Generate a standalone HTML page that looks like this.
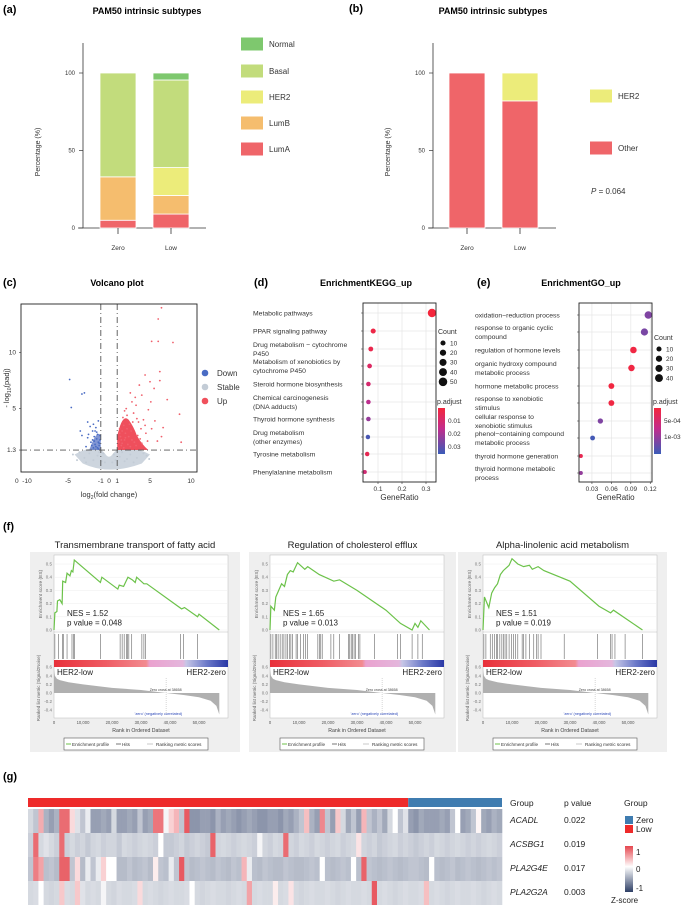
<!DOCTYPE html>
<html><head><meta charset="utf-8"><style>
html,body{margin:0;padding:0;background:#fff}
svg{display:block;font-family:"Liberation Sans",Arial,sans-serif}
</style></head><body>
<svg id="fig" width="688" height="908" viewBox="0 0 688 908" xmlns="http://www.w3.org/2000/svg">
<g font-weight="bold" font-size="11">
<text x="3" y="13">(a)</text>
<text x="349" y="12">(b)</text>
<text x="3" y="286">(c)</text>
<text x="254" y="286">(d)</text>
<text x="477" y="286">(e)</text>
<text x="3" y="530">(f)</text>
<text x="3" y="780">(g)</text>
</g>
<g font-weight="bold" font-size="9" text-anchor="middle">
<text x="147" y="14">PAM50 intrinsic subtypes</text>
<text x="493" y="14">PAM50 intrinsic subtypes</text>
<text x="117" y="286">Volcano plot</text>
<text x="366" y="286">EnrichmentKEGG_up</text>
<text x="581" y="286">EnrichmentGO_up</text>
</g>
<defs><clipPath id="vclip"><rect x="21" y="304" width="176" height="168"/></clipPath></defs>
<g id="root"></g>
</svg>
<script>
// ---------- DATA ----------
const stackCats = ['Zero','Low'];
const lumA = [5, 9];
const lumB = [28, 12];
const her2 = [0, 18];
const basal = [67, 56.5];
const normal = [0, 4.5];
const otherB = [100, 82];
const her2B = [0, 18];

const downX = [-5.9,-4.8,-3.3,-3.0,-4.6,-2.6,-3.5,-3.3,-2.5,-2.0,-1.8,-1.5,-1.3,-2.2,-1.7,-1.2,-1.4,-2.8,-1.9,-1.6,-2.3,-1.5,-1.1,-1.3,-2.0,-1.6,-1.2,-2.6,-1.9,-1.3,-1.8,-1.4,-2.1,-1.1,-1.7];
const downY = [14.5,7.6,6.3,6.4,5.1,3.8,3.0,2.6,2.7,3.0,2.5,2.3,2.0,2.0,1.8,1.7,1.5,1.6,3.6,3.3,3.4,2.9,2.6,3.9,2.2,1.6,1.9,2.4,1.5,1.4,2.1,2.7,1.7,2.2,3.0];
const upX = [6.4,6.0,5.2,6.0,7.8,4.4,6.2,5.0,6.2,3.7,7.1,8.6,8.8,5.9,6.4,3.2,4.0,2.6,5.5,4.8,3.3,2.8,4.2,3.6,3.0,2.2,2.5,1.8,1.6,2.0,1.4,1.2,1.5,2.8,3.5,4.5,5.2,1.9,2.3,1.3,2.7,3.9,1.7,2.1,2.4,3.1,1.1,1.8,2.6,4.0,3.4,4.4,5.6,1.5,2.2,1.3,2.9,1.9,6.6,5.1,3.8,4.7,2.0,1.6,3.3];
const upY = [14.0,13.0,11.0,11.0,10.9,8.0,8.3,7.4,7.5,7.1,5.8,4.5,2.0,2.1,2.5,6.0,6.2,6.4,6.8,4.9,5.3,5.6,4.0,3.8,4.6,4.4,3.6,3.5,3.0,2.8,2.5,2.0,1.7,2.2,2.6,2.8,3.2,2.2,1.8,3.2,3.0,3.2,4.2,5.0,2.5,2.0,1.5,1.5,1.6,1.9,4.1,3.5,3.9,2.2,3.2,2.8,3.8,4.8,3.3,5.6,2.3,2.1,2.4,1.9,1.7];
const stableX = [-4.4,-3.6,-3.0,-2.4,-1.9,-1.4,-0.9,-0.5,0.4,0.8,1.3,1.9,2.6,3.4,4.2,4.9,-2.8,-1.2,1.6,3.0,-3.9,4.6,-0.7,0.6,2.2];
const stableY = [0.9,1.1,0.6,1.0,0.4,0.8,0.3,0.2,0.2,0.4,0.7,0.3,0.9,0.6,1.0,0.5,0.2,1.1,1.1,0.2,0.4,0.8,1.0,0.9,0.5];

const keggTerms = ['Metabolic pathways','PPAR signaling pathway','Drug metabolism \u2212 cytochrome|P450','Metabolism of xenobiotics by|cytochrome P450','Steroid hormone biosynthesis','Chemical carcinogenesis|(DNA adducts)','Thyroid hormone synthesis','Drug metabolism|(other enzymes)','Tyrosine metabolism','Phenylalanine metabolism'];
const keggRatio = [0.325,0.08,0.07,0.065,0.06,0.06,0.06,0.058,0.055,0.045];
const keggCount = [55,12,10,9,8,8,8,7,7,5];
const keggP = [0.004,0.006,0.007,0.011,0.013,0.019,0.024,0.034,0.008,0.014];
const goTerms = ['oxidation\u2212reduction process','response to organic cyclic|compound','regulation of hormone levels','organic hydroxy compound|metabolic process','hormone metabolic process','response to xenobiotic|stimulus','cellular response to|xenobiotic stimulus','phenol\u2212containing compound|metabolic process','thyroid hormone generation','thyroid hormone metabolic|process'];
const goRatio = [0.117,0.111,0.094,0.091,0.060,0.060,0.043,0.031,0.013,0.013];
const goCount = [40,36,27,26,19,19,14,10,4,4];
const goP = [0.00105,0.00108,0.0002,0.0002,0.00018,0.0002,0.00105,0.00135,0.0003,0.00095];

const gseaTitles = ['Transmembrane transport of fatty acid','Regulation of cholesterol efflux','Alpha-linolenic acid metabolism'];
const gseaNES = ['1.52','1.65','1.51'];
const gseaP = ['0.048','0.013','0.019'];
const es1Rank = [0,300,1000,1200,2000,2800,3000,4000,4500,5500,6000,6500,7000,16000,16500,22000,22500,24000,25500,27000,28000,28500,31000,32000,44000,45000,49500,50000,57000];
const es1Val = [0,0.13,0.14,0.22,0.23,0.2,0.37,0.36,0.43,0.41,0.45,0.44,0.53,0.36,0.4,0.31,0.34,0.33,0.4,0.38,0.36,0.4,0.35,0.35,0.16,0.17,0.1,0.12,0];
const es2Rank = [0,300,1500,2000,3000,4000,5000,6000,7000,8000,9500,12000,13000,15000,17000,22000,24000,30000,40000,45000,49000,50000,51000,52000,55000];
const es2Val = [0,0.18,0.15,0.25,0.3,0.35,0.33,0.42,0.45,0.44,0.51,0.46,0.48,0.45,0.42,0.37,0.38,0.3,0.15,0.05,0.0,0.05,0.02,0.07,0.0];
const es3Rank = [0,500,2000,3000,4000,5000,6000,7000,9000,10000,12000,14000,16000,17000,19000,21000,30000,40000,44000,45000,55000];
const es3Val = [0,0.25,0.17,0.28,0.32,0.35,0.42,0.45,0.49,0.54,0.5,0.48,0.49,0.46,0.48,0.45,0.37,0.18,0.13,0.15,0.0];
const hits1 = [300,1500,2900,3200,4500,6200,6800,7000,16000,22800,23500,24200,25000,25300,25800,26800,30300,31000,31600,43600,44600,49500];
const hits2 = [300,1000,1800,2300,2800,3500,4200,4800,5500,6000,6800,7200,7800,9000,9500,10500,11500,12200,13000,16500,17000,17500,18000,21000,22000,24000,27000,27500,28000,28500,29000,29500,30500,31000,36000,44000,45000,49000,51000,52500];
const hits3 = [300,1000,2500,3200,4000,4600,5000,5800,6500,7000,7600,8200,9000,9800,10500,11200,12000,13500,14000,14800,16000,17500,18500,19000,20000,28000,39500,44000,44500,45500,49000,55000];
const metricRank = [0,300,1000,2000,5000,10000,20000,30000,38658,45000,50000,54000,56000,57000];
const metricVal = [0.55,0.4,0.33,0.3,0.25,0.2,0.12,0.07,0,-0.05,-0.1,-0.18,-0.3,-0.5];

const genes = ['ACADL','ACSBG1','PLA2G4E','PLA2G2A'];
const genePvals = ['0.022','0.019','0.017','0.003'];
const groupLowCount = 73;
const zACADL = [-0.2,-0.3,0.45,-0.4,-0.5,-0.4,0.8,0.8,0.2,-0.15,-0.3,-0.1,-0.5,-0.5,-0.45,-0.5,-0.2,-0.5,-0.5,-0.45,-0.5,-0.3,-0.5,-0.45,0.75,0.75,-0.05,0.25,0.4,-0.3,0.9,-0.55,-0.55,-0.5,-0.5,-0.55,-0.4,-0.5,-0.45,-0.5,-0.55,-0.5,-0.45,-0.5,-0.55,-0.55,-0.5,-0.5,-0.55,-0.45,-0.5,-0.4,-0.3,0.35,-0.4,-0.5,0.65,-0.3,-0.5,0.3,-0.2,-0.45,-0.3,-0.5,0.4,-0.3,-0.4,-0.3,-0.45,-0.2,0,-0.3,-0.15,-0.5,-0.55,-0.45,-0.5,-0.5,-0.5,-0.45,-0.5,-0.3,0,-0.5,-0.45,-0.3,0.05,-0.45,-0.5,-0.4,-0.45];
const zACSBG1 = [-0.25,0.8,-0.2,-0.15,-0.2,-0.25,0.8,-0.25,-0.2,-0.25,-0.22,-0.28,-0.22,-0.2,-0.25,-0.22,-0.22,-0.28,-0.2,-0.22,-0.25,-0.22,-0.2,-0.22,-0.25,0,-0.28,-0.28,-0.25,-0.22,-0.28,-0.25,-0.22,-0.25,-0.28,0.85,-0.22,-0.2,-0.22,-0.25,-0.22,-0.2,-0.22,-0.25,-0.05,-0.22,-0.25,-0.2,-0.22,0.8,-0.22,-0.25,-0.2,-0.22,-0.25,-0.2,-0.22,-0.25,-0.22,-0.2,-0.25,-0.22,-0.2,0.15,-0.22,-0.25,-0.22,-0.28,-0.25,-0.22,-0.2,-0.25,-0.22,-0.25,-0.28,-0.25,-0.22,-0.25,-0.2,-0.22,-0.25,-0.22,-0.2,-0.22,-0.25,-0.22,-0.25,-0.22,-0.2,-0.22,-0.25];
const zPLA2G4E = [-0.3,0.7,0.5,-0.33,-0.3,-0.35,0.85,0.85,-0.3,0.2,-0.35,-0.1,-0.3,-0.1,0.25,0,0,-0.35,-0.35,-0.3,-0.35,-0.33,-0.3,-0.35,0.1,-0.3,-0.33,-0.1,-0.3,0.9,-0.3,-0.35,-0.33,-0.3,-0.33,-0.35,-0.3,-0.33,-0.35,-0.3,-0.33,0.4,-0.1,-0.33,-0.35,-0.3,-0.33,-0.35,-0.35,-0.3,-0.33,-0.35,-0.35,-0.33,-0.3,-0.33,0,-0.33,-0.35,-0.33,-0.3,-0.33,0,-0.33,0.85,-0.3,-0.33,-0.35,-0.33,-0.3,-0.33,-0.35,-0.33,-0.3,-0.3,-0.33,-0.35,0,-0.33,-0.35,-0.33,-0.3,-0.35,-0.33,-0.3,-0.33,-0.35,-0.33,-0.3,-0.33,-0.3];
const zPLA2G2A = [-0.2,-0.18,0,-0.2,-0.22,-0.2,0.3,-0.18,-0.2,0.3,-0.15,-0.2,-0.18,-0.2,-0.05,-0.2,-0.22,-0.18,-0.2,-0.2,-0.18,0.2,-0.2,-0.18,-0.2,-0.22,-0.2,-0.18,-0.2,-0.2,-0.18,0,-0.2,-0.22,-0.2,-0.18,-0.2,-0.2,-0.22,-0.2,-0.18,-0.2,0.5,-0.2,-0.18,-0.2,-0.2,0.1,-0.2,-0.18,0.15,-0.2,-0.22,-0.2,-0.18,-0.2,-0.2,-0.18,-0.2,-0.22,-0.2,-0.18,-0.2,-0.2,-0.18,-0.2,0.9,-0.2,-0.18,-0.2,-0.22,-0.2,-0.18,-0.2,-0.2,-0.18,0.35,-0.2,-0.18,-0.2,-0.22,-0.2,-0.18,-0.2,-0.2,-0.18,-0.2,-0.22,-0.2,-0.18,-0.2];

// ---------- HELPERS ----------
const NS='http://www.w3.org/2000/svg';
const root=document.getElementById('root');
function mk(tag,attrs,parent){const e=document.createElementNS(NS,tag);for(const k in attrs)e.setAttribute(k,attrs[k]);(parent||root).appendChild(e);return e;}
function txt(s,attrs,parent){const e=mk('text',attrs,parent);e.textContent=s;return e;}
function lerp(a,b,t){return Math.round(a+(b-a)*t);}
function mix(c1,c2,t){return 'rgb('+lerp(c1[0],c2[0],t)+','+lerp(c1[1],c2[1],t)+','+lerp(c1[2],c2[2],t)+')';}

// ---------- PANEL A / B ----------
function stackPanel(ax, barXs, series, colors, names, tag){
  const y=v=>228-v*1.55;
  const g=mk('g',{});
  
  
  let a=mk('line',{x1:ax,y1:43,x2:ax,y2:228,stroke:'#333','stroke-width':0.8},g);
  
  
  a=mk('line',{x1:ax-5,y1:228,x2:ax+123,y2:228,stroke:'#333','stroke-width':0.8},g);
  
  
  [0,50,100].forEach(v=>{
    mk('line',{x1:ax-4,y1:y(v),x2:ax,y2:y(v),stroke:'#333','stroke-width':0.7},g);
    const t=txt(String(v),{x:ax-8,y:y(v)+2,'font-size':6,'text-anchor':'end',fill:'#333'},g);
    
    
  });
  const yl=txt('Percentage (%)',{x:0,y:0,'font-size':7,'text-anchor':'middle',fill:'#333',transform:'translate('+(ax-43)+',152) rotate(-90)'},g);
  
  
  stackCats.forEach((c,i)=>{
    let base=0;
    series.forEach((s,j)=>{
      const v=s[i]; if(v<=0) return;
      const r=mk('rect',{x:barXs[i],y:y(base+v),width:36,height:v*1.55,fill:colors[j],stroke:'#fff','stroke-width':0.8},g);
      
      
      base+=v;
    });
    mk('line',{x1:barXs[i]+18,y1:228,x2:barXs[i]+18,y2:234,stroke:'#333','stroke-width':0.8},g);
    const t=txt(c,{x:barXs[i]+18,y:250,'font-size':6.5,'text-anchor':'middle',fill:'#333'},g);
    
    
  });
  return g;
}
stackPanel(83,[100,153],[lumA,lumB,her2,basal,normal],['#ef6569','#f5bd6e','#ecec7a','#c2dc7c','#7ec86e'],['LumA','LumB','HER2','Basal','Normal'],'panel-a');
[['Normal','#7ec86e',44],['Basal','#c2dc7c',71],['HER2','#ecec7a',97],['LumB','#f5bd6e',123],['LumA','#ef6569',149]].forEach(l=>{
  const r=mk('rect',{x:241,y:l[2]-6.5,width:22,height:13,fill:l[1]});
  
  
  const t=txt(l[0],{x:269,y:l[2]+3,'font-size':8,fill:'#333'});
  
  
});
stackPanel(433,[449,502],[otherB,her2B],['#ef6569','#ecec7a'],['Other','HER2'],'panel-b');
[['HER2','#ecec7a',96],['Other','#ef6569',148]].forEach(l=>{
  const r=mk('rect',{x:590,y:l[2]-6.5,width:22,height:13,fill:l[1]});
  
  
  const t=txt(l[0],{x:618,y:l[2]+3,'font-size':8,fill:'#333'});
  
  
});
{const t=mk('text',{x:591,y:194,'font-size':8,fill:'#333'});
t.innerHTML='<tspan font-style="italic">P</tspan> = 0.064';

}

// ---------- VOLCANO ----------
{
const xv=v=>109+v*8.2, yv=v=>464.6-v*11.2;
const g=mk('g',{});


const gc=mk('g',{'clip-path':'url(#vclip)'},g);
const cloud=mk('path',{d:'M'+xv(-4.2)+' '+yv(0.9)+' Q'+xv(-2.8)+' '+yv(1.5)+' '+xv(-1.2)+' '+yv(1.5)+' L'+xv(-0.5)+' '+yv(1.0)+' Q'+xv(0)+' '+yv(0.4)+' '+xv(0.5)+' '+yv(1.0)+' L'+xv(1.2)+' '+yv(1.5)+' Q'+xv(3.2)+' '+yv(1.6)+' '+xv(5.0)+' '+yv(0.9)+' L'+xv(4.0)+' '+yv(0.1)+' Q'+xv(0)+' '+yv(-1.0)+' '+xv(-3.2)+' '+yv(0.1)+' Z',fill:'#cdd5de'},gc);


const core=mk('path',{d:'M'+xv(1.0)+' '+yv(1.3)+' L'+xv(1.0)+' '+yv(2.5)+' Q'+xv(1.6)+' '+yv(4.6)+' '+xv(2.4)+' '+yv(4.0)+' Q'+xv(3.0)+' '+yv(3.4)+' '+xv(3.4)+' '+yv(2.6)+' Q'+xv(4.0)+' '+yv(1.8)+' '+xv(4.8)+' '+yv(1.3)+' Z',fill:'#ef4f5c'},gc);


const dcore=mk('path',{d:'M'+xv(-1.0)+' '+yv(1.3)+' L'+xv(-1.0)+' '+yv(2.6)+' Q'+xv(-1.5)+' '+yv(3.2)+' '+xv(-2.4)+' '+yv(1.3)+' Z',fill:'#5572c4',opacity:0.75},gc);


stableX.forEach((x,i)=>{const c=mk('circle',{cx:xv(x),cy:yv(stableY[i]),r:1,fill:'#c3ccd6'},gc);

});
downX.forEach((x,i)=>{const c=mk('circle',{cx:xv(x),cy:yv(downY[i]),r:0.9,fill:'#4a6cc4'},gc);

});
upX.forEach((x,i)=>{const c=mk('circle',{cx:xv(x),cy:yv(upY[i]),r:0.9,fill:'#f0606c'},gc);

});
[-1,1].forEach(v=>{const l=mk('line',{x1:xv(v),y1:304,x2:xv(v),y2:472,stroke:'#555','stroke-width':0.9,'stroke-dasharray':'6 3 1 3'},g);

});
{const l=mk('line',{x1:21,y1:yv(1.3),x2:197,y2:yv(1.3),stroke:'#555','stroke-width':0.9,'stroke-dasharray':'6 3 1 3'},g);

}
const box=mk('rect',{x:21,y:304,width:176,height:168,fill:'none',stroke:'#222','stroke-width':0.9},g);


[[10,'10'],[5,'5'],[1.3,'1.3']].forEach(t=>{const e=txt(t[1],{x:16,y:yv(t[0])+2,'font-size':6.5,'text-anchor':'end',fill:'#333'},g);


mk('line',{x1:19,y1:yv(t[0]),x2:21,y2:yv(t[0]),stroke:'#333','stroke-width':0.6},g);});
[[-10,'-10'],[-5,'-5'],[-1,'-1'],[0,'0'],[1,'1'],[5,'5'],[10,'10']].forEach(t=>{const e=txt(t[1],{x:xv(t[0]),y:483,'font-size':6.5,'text-anchor':'middle',fill:'#333'},g);

});
{const e=txt('0',{x:15,y:483,'font-size':6.5,fill:'#333'},g);

}
const xl=mk('text',{x:109,y:497,'font-size':7.5,'text-anchor':'middle',fill:'#333'},g);
xl.innerHTML='log<tspan font-size="5" dy="2">2</tspan><tspan dy="-2">(fold change)</tspan>';


const yl=mk('text',{x:0,y:0,'font-size':7.5,'text-anchor':'middle',fill:'#333',transform:'translate(9,388) rotate(-90)'},g);
yl.innerHTML='- log<tspan font-size="5" dy="2">10</tspan><tspan dy="-2">(padj)</tspan>';


[['Down','#4a6cc4',373],['Stable','#c3ccd6',387],['Up','#f0505c',401]].forEach(l=>{
  const c=mk('circle',{cx:205,cy:l[2],r:3.3,fill:l[1]},g);
  
  
  const t=txt(l[0],{x:217,y:l[2]+3,'font-size':8,fill:'#333'},g);
  
  
});
}

// ---------- DOT PLOTS ----------
function dotPlot(tag,terms,ratio,count,pv,x0,scale,boxL,boxR,rowYs,labelX,ticks,pcol,legX,cntVals,pTicks){
  const g=mk('g',{});
  
  
  const xs=v=>x0+v*scale;
  mk('rect',{x:boxL,y:303,width:boxR-boxL,height:179,fill:'#fff'},g);
  ticks.forEach(t=>{mk('line',{x1:xs(t[0]),y1:303,x2:xs(t[0]),y2:482,stroke:'#e6e6e6','stroke-width':0.7},g);});
  rowYs.forEach(y=>{mk('line',{x1:boxL,y1:y,x2:boxR,y2:y,stroke:'#e6e6e6','stroke-width':0.7},g);
    mk('line',{x1:boxL-2,y1:y,x2:boxL,y2:y,stroke:'#555','stroke-width':0.6},g);});
  const rad=c=>1.1+Math.sqrt(c)*0.42;
  terms.forEach((t,i)=>{
    const parts=t.split('|');
    const y=rowYs[i];
    parts.forEach((p,k)=>{const e=txt(p,{x:labelX,y:y+2.5+(k-(parts.length-1)/2)*9,'font-size':6.8,fill:'#333'},g);
      
      });
    const c=mk('circle',{cx:xs(ratio[i]),cy:y,r:rad(count[i]),fill:pcol(pv[i])},g);
    
    
  });
  const fr=mk('rect',{x:boxL,y:303,width:boxR-boxL,height:179,fill:'none',stroke:'#222','stroke-width':0.9},g);
  
  
  ticks.forEach(t=>{mk('line',{x1:xs(t[0]),y1:482,x2:xs(t[0]),y2:484,stroke:'#333','stroke-width':0.6},g);
    const e=txt(t[1],{x:xs(t[0]),y:491,'font-size':6.5,'text-anchor':'middle',fill:'#333'},g);
    
    });
  const xl=txt('GeneRatio',{x:(boxL+boxR)/2,y:500,'font-size':8,'text-anchor':'middle',fill:'#333'},g);
  
  
  const ct=txt('Count',{x:legX,y:cntVals.length>4?334:340,'font-size':7,fill:'#333'},g);
  
  
  cntVals.forEach((c,i)=>{const y=(cntVals.length>4?343:349)+i*9.7;
    const d=mk('circle',{cx:legX+5,cy:y,r:rad(c)*1.05,fill:'#111'},g);
    
    
    const e=txt(String(c),{x:legX+12,y:y+2.3,'font-size':6.5,fill:'#333'},g);
    
    });
  const pt=txt('p.adjust',{x:legX-1,y:404,'font-size':7,fill:'#333'},g);
  
  
  const gid='grad'+tag;
  const lg=mk('linearGradient',{id:gid,x1:0,y1:0,x2:0,y2:1},g);
  mk('stop',{offset:'0','stop-color':'#f4263c'},lg);
  mk('stop',{offset:'0.45','stop-color':'#c22d8c'},lg);
  mk('stop',{offset:'1','stop-color':'#3a5cb8'},lg);
  const cb=mk('rect',{x:legX,y:408,width:7,height:46,fill:'url(#'+gid+')'},g);
  
  
  pTicks.forEach(t=>{const e=txt(t[1],{x:legX+10,y:t[0]+2,'font-size':6.5,fill:'#333'},g);
    
    });
}
const pcolor=(lo,hi)=>p=>{const t=Math.max(0,Math.min(1,(p-lo)/(hi-lo)));
  return t<0.45?mix([244,38,60],[194,45,140],t/0.45):mix([194,45,140],[58,92,184],(t-0.45)/0.55);};
dotPlot('kegg',keggTerms,keggRatio,keggCount,keggP,354,240,363,436,[313,331,349,366,384,402,419,437,454,472],253,[[0.1,'0.1'],[0.2,'0.2'],[0.3,'0.3']],pcolor(0.004,0.036),438,[10,20,30,40,50],[[421,'0.01'],[434,'0.02'],[447,'0.03']]);
dotPlot('go',goTerms,goRatio,goCount,goP,572.5,648,579,652,[315,332,350,368,386,403,421,438,456,473],475,[[0.03,'0.03'],[0.06,'0.06'],[0.09,'0.09'],[0.12,'0.12']],pcolor(0.00015,0.0014),654,[10,20,30,40],[[421,'5e-04'],[437,'1e-03']]);

// ---------- GSEA ----------
function gsea(i,bgL,bgW,L,esR,esV,hits){
  const W=174, xr=r=>L+r*0.00290, ye=v=>630-v*132, ym=v=>693-v*43;
  const g=mk('g',{});
  
  
  const tt=txt(gseaTitles[i],{x:bgL+bgW/2,y:548,'font-size':9.5,'text-anchor':'middle',fill:'#222'},g);
  
  
  mk('rect',{x:bgL,y:552,width:bgW,height:200,fill:'#efefef'},g);
  mk('rect',{x:L,y:555,width:W,height:163,fill:'#fff',stroke:'#bbb','stroke-width':0.5},g);
  mk('line',{x1:L,y1:632,x2:L+W,y2:632,stroke:'#bbb','stroke-width':0.5},g);
  [0,0.1,0.2,0.3,0.4,0.5].forEach(v=>{mk('line',{x1:L,y1:ye(v),x2:L+W,y2:ye(v),stroke:'#eee','stroke-width':0.5},g);
    txt(v.toFixed(1),{x:L-2,y:ye(v)+1.5,'font-size':4.5,'text-anchor':'end',fill:'#777'},g);});
  const yl=txt('Enrichment score (ES)',{x:0,y:0,'font-size':4.8,'text-anchor':'middle',fill:'#666',transform:'translate('+(L-12)+',594) rotate(-90)'},g);
  
  
  const es=mk('polyline',{points:esR.map((r,k)=>xr(r)+','+ye(esV[k])).join(' '),fill:'none',stroke:'#6cc24a','stroke-width':1.2},g);
  
  
  const n1=txt('NES = '+gseaNES[i],{x:L+13,y:616,'font-size':8,fill:'#222'},g);
  
  
  const n2=txt('p value = '+gseaP[i],{x:L+13,y:625.5,'font-size':8,fill:'#222'},g);
  
  
  hits.forEach(h=>{const l=mk('line',{x1:xr(h),y1:634,x2:xr(h),y2:659,stroke:'#666','stroke-width':0.6},g);
    
    });
  const gid='gb'+i;
  const lg=mk('linearGradient',{id:gid,x1:0,y1:0,x2:1,y2:0},g);
  [['0','#e8303a'],['0.3','#ef5c64'],['0.53','#f28b90'],['0.55','#eaa2cf'],['0.74','#e4b6dc'],['0.76','#c6c6e6'],['0.88','#6a78c8'],['1','#2a38a6']].forEach(s=>mk('stop',{offset:s[0],'stop-color':s[1]},lg));
  const cb=mk('rect',{x:L,y:660,width:W,height:7,fill:'url(#'+gid+')'},g);
  
  
  const hl=txt('HER2-low',{x:L+3,y:675,'font-size':8,fill:'#222'},g);
  
  
  const hz=txt('HER2-zero',{x:L+W-2,y:675,'font-size':8,'text-anchor':'end',fill:'#222'},g);
  
  
  let d='M'+xr(0)+' '+ym(0);
  metricRank.forEach((r,k)=>{d+=' L'+xr(r)+' '+ym(metricVal[k]);});
  d+=' L'+xr(metricRank[metricRank.length-1])+' '+ym(0)+' Z';
  const ar=mk('path',{d:d,fill:'#b0b0b0'},g);
  
  
  [0.6,0.4,0.2,0,-0.2,-0.4].forEach(v=>txt(v.toFixed(1),{x:L-2,y:ym(v)+1.5,'font-size':4.5,'text-anchor':'end',fill:'#777'},g));
  mk('line',{x1:xr(38658),y1:678,x2:xr(38658),y2:716,stroke:'#999','stroke-width':0.4,'stroke-dasharray':'1 1'},g);
  txt('Zero cross at 38658',{x:xr(33000),y:691,'font-size':3.6,fill:'#444'},g);
  const zc=txt("'zero' (negatively correlated)",{x:xr(36000),y:715,'font-size':3.8,'text-anchor':'middle',fill:'#2b47b8'},g);
  
  
  const ryl=txt('Ranked list metric (Signal2Noise)',{x:0,y:0,'font-size':4.5,'text-anchor':'middle',fill:'#666',transform:'translate('+(L-14)+',688) rotate(-90)'},g);
  
  
  [[0,'0'],[10000,'10,000'],[20000,'20,000'],[30000,'30,000'],[40000,'40,000'],[50000,'50,000']].forEach(t=>txt(t[1],{x:xr(t[0]),y:724,'font-size':4.2,'text-anchor':'middle',fill:'#555'},g));
  const xl=txt('Rank in Ordered Dataset',{x:L+W/2,y:732,'font-size':5.2,'text-anchor':'middle',fill:'#444'},g);
  
  
  const lb=mk('rect',{x:L+10,y:738,width:144,height:12,fill:'#fff',stroke:'#555','stroke-width':0.6},g);
  
  
  mk('line',{x1:L+12,y1:744,x2:L+17,y2:744,stroke:'#6cc24a','stroke-width':1},g);
  txt('Enrichment profile',{x:L+18,y:745.8,'font-size':4.6,fill:'#333'},g);
  mk('line',{x1:L+62,y1:744,x2:L+67,y2:744,stroke:'#555','stroke-width':0.8},g);
  txt('Hits',{x:L+68,y:745.8,'font-size':4.6,fill:'#333'},g);
  mk('line',{x1:L+93,y1:744,x2:L+99,y2:744,stroke:'#bbb','stroke-width':0.8},g);
  txt('Ranking metric scores',{x:L+102,y:745.8,'font-size':4.6,fill:'#333'},g);
}
gsea(0,30,210,54,es1Rank,es1Val,hits1);
gsea(1,249,207,270,es2Rank,es2Val,hits2);
gsea(2,458,209,483,es3Rank,es3Val,hits3);

// ---------- HEATMAP ----------
{
const g=mk('g',{});


const rows=[zACADL,zACSBG1,zPLA2G4E,zPLA2G2A];
const nCol=zACADL.length, X0=28, X1=502, cw=(X1-X0)/nCol;
const rowY=[809,833,857,881], rh=24;
const gl=mk('rect',{x:X0,y:798,width:groupLowCount*cw,height:9,fill:'#ee2a2a'},g);


const gz=mk('rect',{x:X0+groupLowCount*cw,y:798,width:(nCol-groupLowCount)*cw,height:9,fill:'#3f7cb0'},g);


const zc=v=>v>=0?mix([255,255,255],[229,71,79],Math.min(1,v)):mix([255,255,255],[46,63,102],Math.min(1,-v));
rows.forEach((r,ri)=>{
  r.forEach((v,ci)=>{
    const c=mk('rect',{x:X0+ci*cw,y:rowY[ri],width:cw+0.3,height:rh,fill:zc(v)},g);
    
    
  });
  const gt=txt(genes[ri],{x:510,y:rowY[ri]+14,'font-size':8.5,'font-style':'italic',fill:'#222'},g);
  
  
  const pt=txt(genePvals[ri],{x:564,y:rowY[ri]+14,'font-size':8.5,fill:'#222'},g);
  
  
});
[['Group',510],['p value',564],['Group',624]].forEach(h=>{const t=txt(h[0],{x:h[1],y:806,'font-size':8.5,fill:'#222'},g);
  
  });
[['Zero','#3f7cb0',816],['Low','#ee2a2a',825]].forEach(l=>{
  const r=mk('rect',{x:625,y:l[2],width:8,height:8,fill:l[1]},g);
  
  
  const t=txt(l[0],{x:636,y:l[2]+7,'font-size':8.5,fill:'#222'},g);
  
  
});
const lg=mk('linearGradient',{id:'zgrad',x1:0,y1:0,x2:0,y2:1},g);
mk('stop',{offset:'0','stop-color':'#e5474f'},lg);
mk('stop',{offset:'0.45','stop-color':'#ffffff'},lg);
mk('stop',{offset:'1','stop-color':'#2e3f66'},lg);
const cb=mk('rect',{x:625,y:846,width:8,height:46,fill:'url(#zgrad)'},g);


[['1',852],['0',869],['-1',888]].forEach(t=>{const e=txt(t[0],{x:636,y:t[1]+3,'font-size':8,fill:'#222'},g);
  
  });
const zs=txt('Z-score',{x:611,y:903,'font-size':8,fill:'#222'},g);


}
</script>
</body></html>
